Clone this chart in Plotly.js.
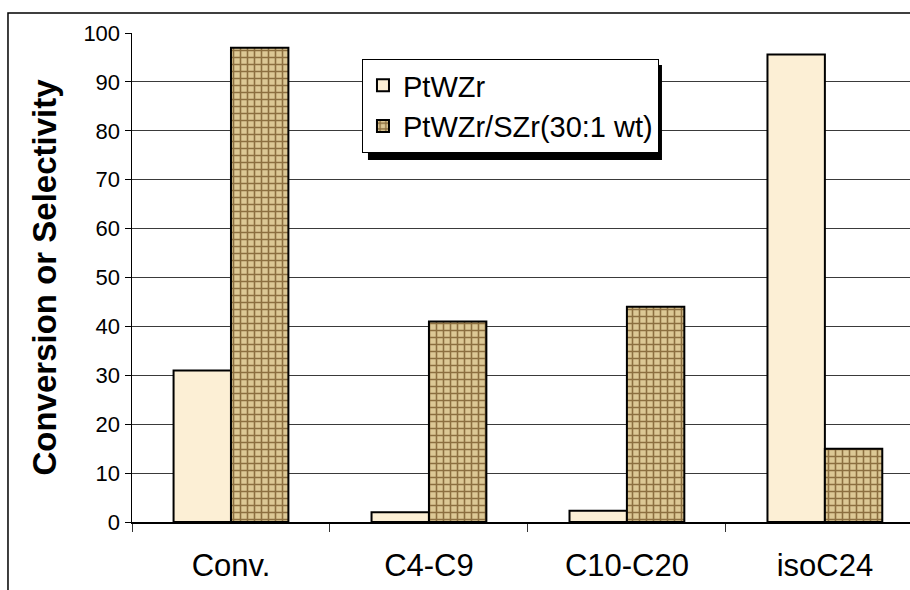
<!DOCTYPE html>
<html>
<head>
<meta charset="utf-8">
<script src="https://cdn.plot.ly/plotly-3.0.1.min.js"></script>
<style>html,body{margin:0;padding:0;background:#fff;}#chart{width:910px;height:590px;}</style>
</head>
<body>
<div id="chart"></div>
<script>
var categories = ["Conv.", "C4-C9", "C10-C20", "isoC24"];
var seriesNames = ["PtWZr", "PtWZr/SZr(30:1 wt)"];
var ptwzr = [31, 2, 2.3, 95.6];
var ptwzrSzr = [97, 41, 44, 15];
var yTickVals = [0, 10, 20, 30, 40, 50, 60, 70, 80, 90, 100];

var FONT = "Liberation Sans, Arial, sans-serif";

var traces = [
  {
    type: "bar", name: seriesNames[0], x: categories, y: ptwzr,
    legendgroup: "a",
    marker: { color: "#fcefd5", line: { color: "#000", width: 2 } }
  },
  {
    type: "bar", name: seriesNames[1], x: categories, y: ptwzrSzr,
    legendgroup: "b",
    marker: {
      color: "#cdb27c",
      line: { color: "#000", width: 2 },
      pattern: { shape: "+", fgcolor: "#8c6f40", bgcolor: "#dcc895", size: 7, solidity: 0.4, fillmode: "replace" }
    }
  }
];

var layout = {
  width: 910, height: 590,
  margin: { l: 132, r: 0, t: 33, b: 68 },
  paper_bgcolor: "#fff", plot_bgcolor: "#fff",
  font: { family: FONT, color: "#000" },
  barmode: "group", bargap: 0.42, bargroupgap: 0,
  showlegend: true,
  legend: {
    x: 0.2956, y: 0.9468, xanchor: "left", yanchor: "top",
    bgcolor: "#fff", bordercolor: "#000", borderwidth: 1,
    font: { size: 29, family: FONT, color: "#000" },
    itemwidth: 30, tracegroupgap: 6, traceorder: "normal"
  },
  xaxis: {
    type: "category", range: [-0.5, 3.43],
    showline: true, linecolor: "#000", linewidth: 2,
    ticks: "outside", ticklen: 8, tickcolor: "#333", tickson: "boundaries",
    tickfont: { size: 31, family: FONT, color: "#000" }, ticklabelstandoff: 15,
    showgrid: false, zeroline: false, fixedrange: true
  },
  yaxis: {
    range: [0, 100], tickvals: yTickVals,
    showline: true, linecolor: "#000", linewidth: 1.5,
    ticks: "outside", ticklen: 6, tickcolor: "#000",
    tickfont: { size: 22, family: FONT, color: "#000" },
    showgrid: true, gridcolor: "#3a3a3a", gridwidth: 1, zeroline: false,
    title: { text: "Conversion or Selectivity", font: { size: 33, family: FONT, color: "#000", weight: "bold" }, standoff: 17 },
    fixedrange: true
  },
  shapes: [
    { type: "rect", xref: "paper", yref: "paper", x0: -0.1594, x1: 1.05, y0: -0.3, y1: 1.0409,
      line: { color: "#000", width: 1.5 }, fillcolor: "rgba(0,0,0,0)", layer: "below" },
    { type: "rect", xref: "paper", yref: "paper", x0: 0.3033, x1: 0.6812, y0: 0.7403, y1: 0.9346,
      line: { width: 0 }, fillcolor: "#000", layer: "above" }
  ]
};

Plotly.newPlot("chart", traces, layout, { displayModeBar: false, staticPlot: true });
</script>
</body>
</html>
